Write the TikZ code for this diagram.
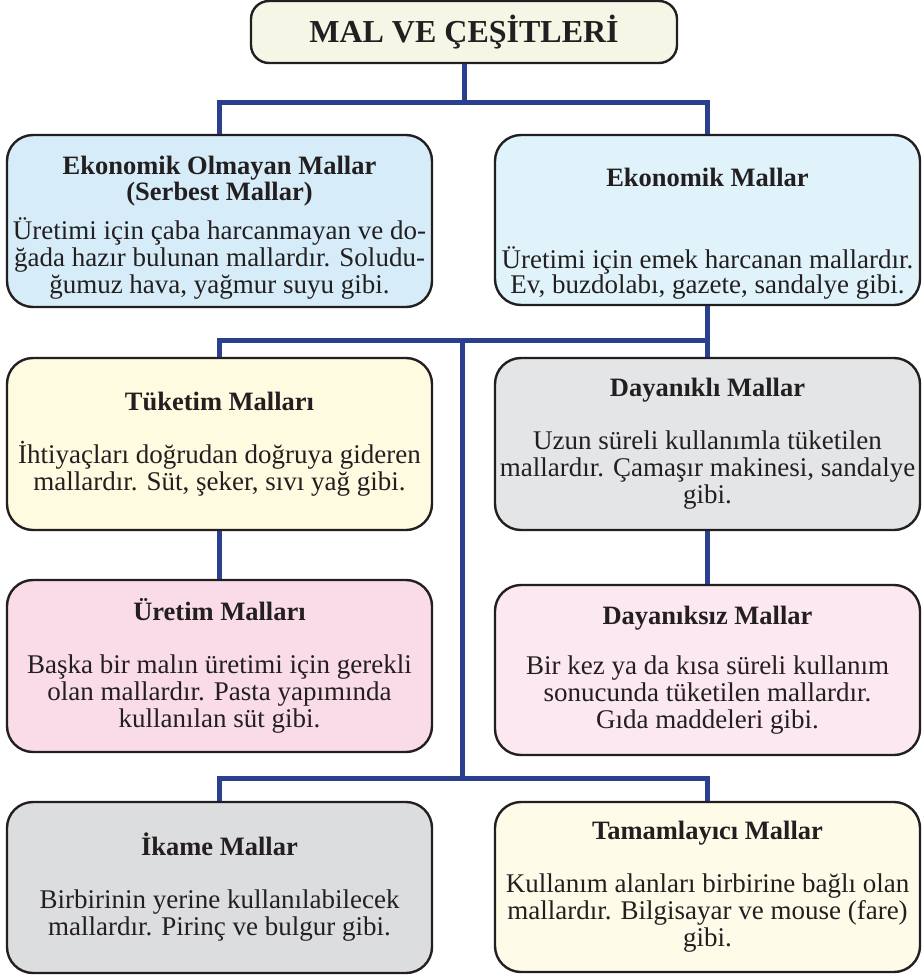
\documentclass[tikz,border=0pt]{standalone}
\usepackage{fontspec}
\setmainfont{Liberation Serif}
\usetikzlibrary{calc}
\definecolor{conn}{RGB}{42,64,142}
\definecolor{edge}{RGB}{35,31,32}
\definecolor{ctitle}{HTML}{F6F6E6}
\definecolor{cblueA}{HTML}{D6EDF9}
\definecolor{cblueB}{HTML}{E0F3FB}
\definecolor{cyellow}{HTML}{FFFBE0}
\definecolor{cgreyA}{HTML}{E4E5E7}
\definecolor{cpinkA}{HTML}{FADCE9}
\definecolor{cpinkB}{HTML}{FCE8F1}
\definecolor{cgreyB}{HTML}{DCDDDF}
\definecolor{ccream}{HTML}{FEFBE8}
\tikzset{
  box/.style={draw=edge, line width=2.4pt, rounded corners=26pt, align=center,
    minimum width=425pt, text=edge, inner sep=0pt,
    font=\fontsize{27}{27}\selectfont},
  titlebox/.style={draw=edge, line width=2.4pt, rounded corners=18pt, fill=ctitle,
    minimum width=426pt, minimum height=62pt, text=edge, inner sep=0pt,
    font=\fontsize{32}{36}\selectfont\bfseries},
  conn/.style={draw=conn, line width=5pt}
}
\newcommand{\hdg}[1]{{\fontsize{26.5}{26.5}\selectfont\bfseries #1}}
\begin{document}
\begin{tikzpicture}[x=1pt,y=-1pt]
\useasboundingbox (0,0) rectangle (922,975);
% boxes
\node[titlebox] (title) at (464,32) {MAL VE ÇEŞİTLERİ};
\node[box, fill=cblueA, minimum height=172pt] (eom) at (219.5,221)
  {\hdg{\rule{0pt}{32pt}Ekonomik Olmayan Mallar}\\[-1.5pt]\hdg{(Serbest Mallar)}\\[11pt]
   Üretimi için çaba harcanmayan ve do-\\ğada hazır bulunan mallardır. Soludu-\\ğumuz hava, yağmur suyu gibi.};
\node[box, fill=cblueB, minimum height=170pt] (em) at (707.5,220)
  {\hdg{\rule{0pt}{44pt}Ekonomik Mallar}\\[55pt]
   Üretimi için emek harcanan mallardır.\\[-2pt]Ev, buzdolabı, gazete, sandalye gibi.\\[-22pt]\mbox{}};
\node[box, fill=cyellow, minimum height=172pt] (tuk) at (219.5,444)
  {\hdg{Tüketim Malları}\\[26pt]
   İhtiyaçları doğrudan doğruya gideren\\mallardır. Süt, şeker, sıvı yağ gibi.};
\node[box, fill=cgreyA, minimum height=172pt] (day) at (707.5,444)
  {\hdg{Dayanıklı Mallar}\\[26pt]
   Uzun süreli kullanımla tüketilen\\mallardır. Çamaşır makinesi, sandalye\\gibi.};
\node[box, fill=cpinkA, minimum height=172pt] (ure) at (219.5,666)
  {\hdg{Üretim Malları}\\[26pt]
   Başka bir malın üretimi için gerekli\\olan mallardır. Pasta yapımında\\kullanılan süt gibi.};
\node[box, fill=cpinkB, minimum height=170pt] (dks) at (707.5,670)
  {\hdg{Dayanıksız Mallar}\\[23pt]
   Bir kez ya da kısa süreli kullanım\\sonucunda tüketilen mallardır.\\Gıda maddeleri gibi.};
\node[box, fill=cgreyB, minimum height=171pt] (ika) at (219.5,887.5)
  {\hdg{İkame Mallar}\\[26pt]
   Birbirinin yerine kullanılabilecek\\mallardır. Pirinç ve bulgur gibi.};
\node[box, fill=ccream, minimum height=170pt] (tam) at (707.5,887)
  {\hdg{Tamamlayıcı Mallar}\\[26pt]
   Kullanım alanları birbirine bağlı olan\\mallardır. Bilgisayar ve mouse (fare)\\gibi.};
% junctions
\coordinate (j1) at (464,102);
\coordinate (j2) at (462,340);
\coordinate (j3) at (462,778);
% connectors
\draw[conn] (title.south) -- (j1);
\draw[conn] (eom.north) |- (j1) -| (em.north);
\draw[conn] (em.south) -- (day.north);
\draw[conn] (tuk.north) |- (day.north |- j2);
\draw[conn] (j2) -- (j3);
\draw[conn] (ika.north) |- (j3) -| (tam.north);
\draw[conn] (tuk.south) -- (ure.north);
\draw[conn] (day.south) -- (dks.north);
\end{tikzpicture}
\end{document}
